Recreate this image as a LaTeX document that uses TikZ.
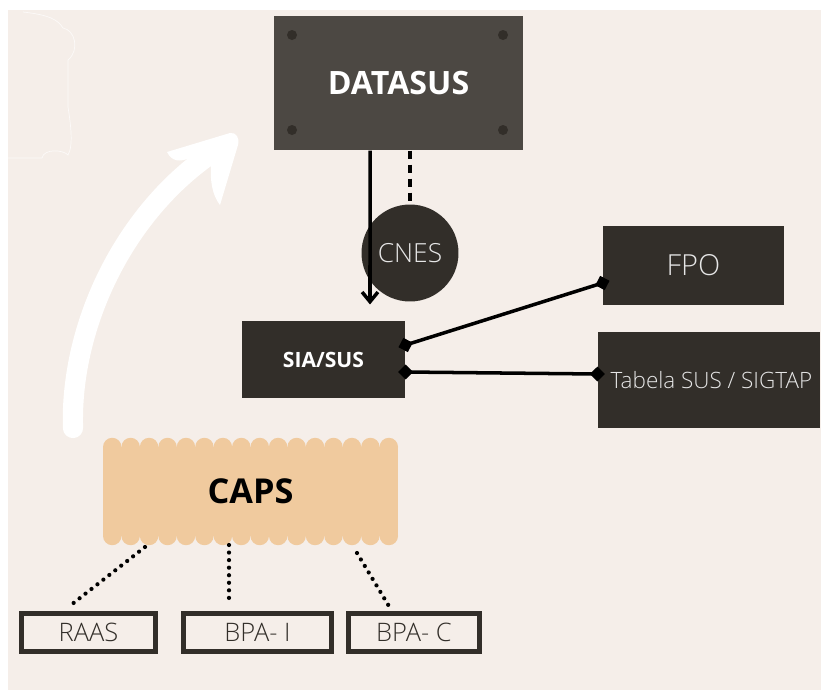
\documentclass[tikz,border=0pt]{standalone}
\usepackage{fontspec}
\setmainfont{Open Sans}
\newfontfamily\thinfont{Open Sans Light}
\usetikzlibrary{arrows.meta}

\definecolor{paper}{HTML}{F5EEE9}
\definecolor{slate}{HTML}{4C4843}
\definecolor{coal}{HTML}{322E29}
\definecolor{sand}{HTML}{F0CA9E}
\definecolor{ash}{HTML}{E6E6E6}

\tikzset{
  darkbox/.style={fill=coal,inner sep=0pt},
  formbox/.style={draw=coal,line width=2.6pt,fill=paper,inner sep=0pt,minimum height=0.76cm,text=coal,font=\thinfont\fontsize{14.5}{16}\selectfont},
  link/.style={line width=2pt,{Diamond[length=8.5pt,width=8.5pt]}-{Diamond[length=8.5pt,width=8.5pt]},shorten <=-4.2pt,shorten >=-4.2pt},
  feed/.style={line width=2.4pt,dash pattern=on 0pt off 4.3pt,line cap=round}
}

\begin{document}
\begin{tikzpicture}[x=0.02cm,y=-0.02cm,semithick]
        \fill[white](0,0)rectangle(821,690);
        \fill[paper](8,10)rectangle(821,690);
        \useasboundingbox(0,0)rectangle(821,690);
        \draw[white,line width=0.4pt,opacity=0.7](8,158)--(42,158)..controls(44,148)and(64,150)..(68,155)
          ..controls(74,145)and(70,120)..(68,107)--(68,60)..controls(80,50)and(75,30)..(63,28)
          ..controls(58,20)and(50,15)..(23,12);
        % big white arrow
        \draw[white,line width=11.5pt,line cap=round](73,428)..controls(70,330)and(120,220)..(205,158);
        \fill[white](167,152)--(230,133)..controls(236,132)and(240,138)..(238,145)--(220,205)
          ..controls(212,195)and(210,180)..(211,165)--(190,158)..controls(180,162)and(172,162)..(167,152)--cycle;
        % nodes
        \node[fill=slate,minimum width=4.98cm,minimum height=2.68cm,inner sep=0pt,text=white,
          font=\bfseries\fontsize{18.3}{20}\selectfont](datasus)at(398.5, 83){DATASUS};
        \foreach \p in {(292,35),(503,35),(292,130),(503,130)}
          \fill[coal]\p circle[radius=5];
        \node[darkbox,shape=circle,minimum size=1.94cm,text=ash,font=\thinfont\fontsize{15}{17}\selectfont](cnes)at(410, 253){CNES};
        \node[darkbox,minimum width=3.26cm,minimum height=1.54cm,text=white,font=\bfseries\fontsize{12}{14}\selectfont](sia)at(323.5, 359.5){SIA/SUS};
        \node[darkbox,minimum width=3.62cm,minimum height=1.58cm,text=ash,font=\thinfont\fontsize{16.5}{18}\selectfont](fpo)at(693.5, 265.5){FPO};
        \node[darkbox,minimum width=4.44cm,minimum height=1.92cm,text=ash,font=\thinfont\fontsize{12.8}{15}\selectfont](sigtap)at(709, 380){\hspace{0.1cm}Tabela SUS / SIGTAP};
        \foreach \k in {0,...,15}{
          \fill[sand](112.22+18.44*\k,447)circle[radius=9.22];
          \fill[sand](112.22+18.44*\k,536)circle[radius=9.22];
        }
        \node[fill=sand,minimum width=5.9cm,minimum height=1.78cm,inner sep=0pt,text=black,
          font=\bfseries\fontsize{19.5}{22}\selectfont](caps)at(250.5, 491.5){CAPS};
        \node[formbox,minimum width=2.68cm](raas)at(88.5, 632.5){RAAS};
        \node[formbox,minimum width=2.96cm](bpai)at(257.5, 632.5){BPA- I};
        \node[formbox,minimum width=2.62cm](bpac)at(414, 632.5){BPA- C};
        % connectors
        \draw[line width=2pt,-{Straight Barb[length=5.5pt,width=9pt,line width=2pt]}]([xshift=-0.57cm]datasus.south)--([shift={(46.5,-16)}]sia.north);
        \draw[line width=2.1pt,dash pattern=on 5pt off 3pt](datasus.south -| cnes.north)--(cnes.north);
        \path[link]([yshift=0.29cm]sia.east) edge ([yshift=-0.35cm]fpo.west)
          ([yshift=-0.25cm]sia.east) edge ([yshift=0.12cm]sigtap.west);
        \path[feed]([shift={(-105.5,55.5)}]caps.center) edge ([shift={(-16.5,-7)}]raas.north)
          ([shift={(-21.5,53.5)}]caps.center) edge ([shift={(-28.5,-6)}]bpai.north)
          ([shift={(106.5,61.5)}]caps.center) edge ([shift={(-25,-5)}]bpac.north);
    \end{tikzpicture}
\end{document}
